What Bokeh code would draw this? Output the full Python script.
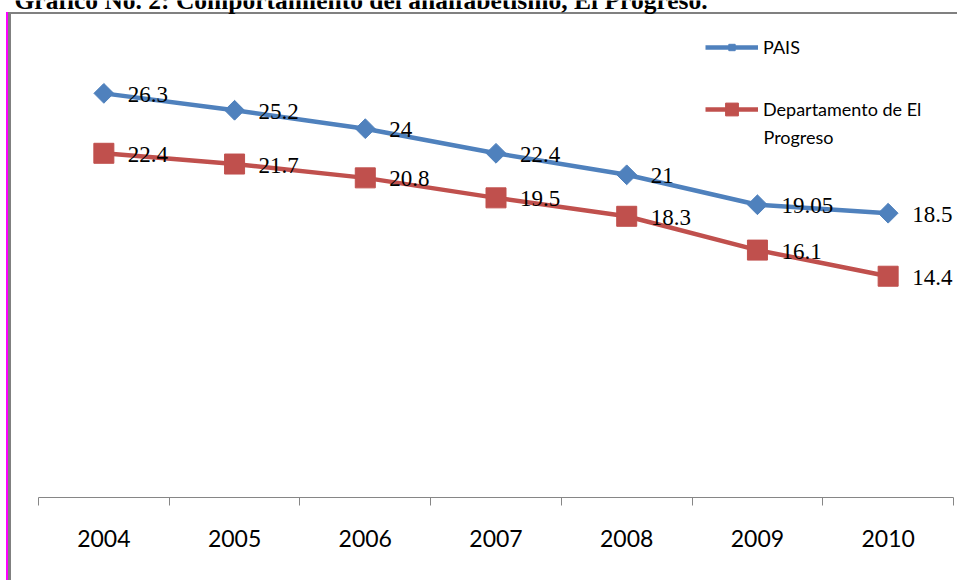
import numpy as np
from bokeh.plotting import figure
from bokeh.models import (ColumnDataSource, FixedTicker, Legend, LegendItem, Label,
                          LabelSet, Range1d)
from bokeh.embed import file_html
from bokeh.resources import INLINE

# ---- data ----
years = ["2004", "2005", "2006", "2007", "2008", "2009", "2010"]
pais = [26.3, 25.2, 24, 22.4, 21, 19.05, 18.5]
depto = [22.4, 21.7, 20.8, 19.5, 18.3, 16.1, 14.4]
pais_labels = ["26.3", "25.2", "24", "22.4", "21", "19.05", "18.5"]
depto_labels = ["22.4", "21.7", "20.8", "19.5", "18.3", "16.1", "14.4"]
series_names = ["PAIS", "Departamento de El Progreso"]
title_text = "Grafico No. 2: Comportamiento del analfabetismo, El Progreso."

BLUE = "#4F81BD"
RED = "#C0504D"
GREY = "#868686"

W, H = 957, 580
AX_L, AX_R = 38, 953        # pixel extent of the category axis
FR_BOTTOM = 497             # pixel row of the value 0 baseline
Y_MAX, Y_TOP_PX = 30, 36    # value axis max and its pixel row

n = len(years)
xs = [i + 0.5 for i in range(n)]
src_p = ColumnDataSource(dict(x=xs, y=pais, t=pais_labels))
src_d = ColumnDataSource(dict(x=xs, y=depto, t=depto_labels))

xpx = (AX_R - AX_L) / n
ypx = (FR_BOTTOM - Y_TOP_PX) / Y_MAX
x_range = Range1d(-AX_L / xpx, n + (W - AX_R) / xpx)
y_range = Range1d(0, Y_MAX + Y_TOP_PX / ypx)

styles = {
    "background-color": "white",
    "background-image": "linear-gradient(#ff00ff,#ff00ff), linear-gradient(#808080,#808080), linear-gradient(#808080,#808080)",
    "background-position": "6px 12px, 8px 12px, 8px 12px",
    "background-size": "2px 568px, 3px 568px, 949px 2px",
    "background-repeat": "no-repeat",
}

p = figure(width=W, height=H, output_backend="svg", toolbar_location=None,
           x_range=x_range, y_range=y_range, y_axis_location=None,
           min_border_left=0, min_border_right=0, min_border_top=0,
           min_border_bottom=H - FR_BOTTOM,
           background_fill_alpha=0, border_fill_alpha=0, outline_line_color=None,
           styles=styles)
p.grid.visible = False

ax = p.xaxis[0]
ax.bounds = (0, n)
ax.ticker = FixedTicker(ticks=xs, minor_ticks=list(range(n + 1)))
ax.major_label_overrides = {x: y for x, y in zip(xs, years)}
ax.major_tick_out = 0
ax.major_tick_in = 0
ax.minor_tick_out = 8
ax.minor_tick_in = 0
ax.minor_tick_line_color = GREY
ax.axis_line_color = GREY
ax.major_label_text_font = "Lato"
ax.major_label_text_font_size = "23px"
ax.major_label_text_color = "black"
ax.major_label_standoff = 24

l1 = p.line("x", "y", source=src_p, line_color=BLUE, line_width=4.5)
s1 = p.scatter("x", "y", source=src_p, marker="square", angle=np.pi / 4, size=14,
               fill_color=BLUE, line_color=BLUE)
l2 = p.line("x", "y", source=src_d, line_color=RED, line_width=4.5)
s2 = p.scatter("x", "y", source=src_d, marker="square", size=20,
               fill_color=RED, line_color=RED)

for src in (src_p, src_d):
    p.add_layout(LabelSet(x="x", y="y", text="t", source=src, x_offset=24, y_offset=-1,
                          text_baseline="middle", text_font="Lato",
                          text_font_size="23px", text_color="black"))

common = dict(padding=0, margin=0, spacing=0, border_line_alpha=0,
              background_fill_alpha=0, glyph_width=53, label_standoff=5,
              label_text_font="Lato", label_text_font_size="18px",
              label_text_color="black")
leg1 = Legend(items=[LegendItem(label=series_names[0], renderers=[l1, s1])],
              location=(705, 439), glyph_height=16, label_height=22, **common)
first, second = series_names[1].rsplit(" ", 1)
leg2 = Legend(items=[LegendItem(label=first, renderers=[l2, s2])],
              location=(705, 372), glyph_height=32, label_height=22, **common)
p.add_layout(leg1)
p.add_layout(leg2)
p.add_layout(Label(x=763, y=361, x_units="screen", y_units="screen", text=second,
                   text_font="Lato", text_font_size="18px", text_color="black",
                   text_baseline="middle"))

p.add_layout(Label(x=14, y=FR_BOTTOM, x_units="screen", y_units="screen",
                   text=title_text, text_font="Liberation Serif",
                   text_font_style="bold", text_font_size="25.5px",
                   text_color="black", text_baseline="alphabetic"))

open("out.html", "w").write(file_html(p, INLINE))
